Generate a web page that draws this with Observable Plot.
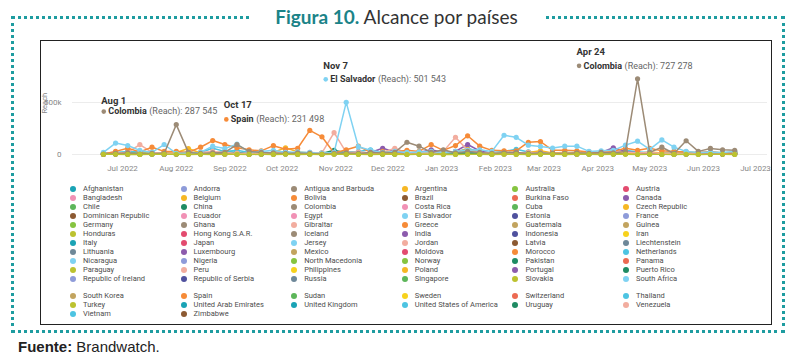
<!DOCTYPE html>
<html><head><meta charset="utf-8">
<script src="https://cdn.jsdelivr.net/npm/d3@7"></script>
<script src="https://cdn.jsdelivr.net/npm/@observablehq/plot@0.6"></script>
<style>
html,body{margin:0;padding:0;background:#fff;}
body{width:793px;height:364px;position:relative;overflow:hidden;font-family:Roboto,sans-serif;}
#frame{position:absolute;left:10.5px;top:15.5px;width:768px;height:311px;border:3px dotted #1e9ca0;}
#title{position:absolute;top:6px;left:0;width:793px;text-align:center;line-height:22px;}
#title .wrap{background:#fff;padding:0 26px;font-family:Lato,sans-serif;font-size:19px;color:#333;}
#title .fig{color:#1b8388;font-weight:bold;}
#box{position:absolute;left:40px;top:40px;width:730px;height:283px;border:1.5px solid #222;background:#fff;}
#chart{position:absolute;left:40px;top:40px;}
.legend{position:absolute;left:70px;display:grid;grid-template-columns:repeat(6,110.6px);grid-auto-rows:9px;font-size:7.5px;color:#4d4d4d;}
.item{display:flex;align-items:center;white-space:nowrap;line-height:9px;}
.sw{width:6px;height:6px;border-radius:50%;margin-right:7px;flex:none;}
#source{position:absolute;left:18px;top:338px;font-family:"Liberation Sans",Arial,sans-serif;font-size:15px;color:#222;line-height:18px;}
</style></head>
<body>
<div id="frame"></div>
<div id="title"><span class="wrap"><span class="fig">Figura 10.</span> Alcance por países</span></div>
<div id="box"></div>
<div id="chart"></div>
<div id="legend1" class="legend" style="top:184.2px"></div>
<div id="legend2" class="legend" style="top:291.2px"></div>
<div id="source"><b>Fuente:</b> Brandwatch.</div>
<script>
// ---------- data ----------
const countries = [
 "Afghanistan","Andorra","Antigua and Barbuda","Argentina","Australia","Austria",
 "Bangladesh","Belgium","Bolivia","Brazil","Burkina Faso","Canada",
 "Chile","China","Colombia","Costa Rica","Cuba","Czech Republic",
 "Dominican Republic","Ecuador","Egypt","El Salvador","Estonia","France",
 "Germany","Ghana","Gibraltar","Greece","Guatemala","Guinea",
 "Honduras","Hong Kong S.A.R.","Iceland","India","Indonesia","Iran",
 "Italy","Japan","Jersey","Jordan","Latvia","Liechtenstein",
 "Lithuania","Luxembourg","Mexico","Moldova","Morocco","Netherlands",
 "Nicaragua","Nigeria","North Macedonia","Norway","Pakistan","Panama",
 "Paraguay","Peru","Philippines","Poland","Portugal","Puerto Rico",
 "Republic of Ireland","Republic of Serbia","Russia","Singapore","Slovakia","South Africa",
 "South Korea","Spain","Sudan","Sweden","Switzerland","Thailand",
 "Turkey","United Arab Emirates","United Kingdom","United States of America","Uruguay","Venezuela",
 "Vietnam","Zimbabwe"
];
const countryColors = [
 "#1aa3b5","#8e9bd9","#9c8b76","#f6b724","#86c440","#e34b6f",
 "#f191b5","#f6b724","#f68b38","#8c5a32","#ec6a52","#8c5bad",
 "#5db65a","#1f8b63","#9c8b76","#f191b5","#5db65a","#f6b724",
 "#8c5a32","#f191b5","#f191b5","#7fd2f2","#4f519e","#8e9bd9",
 "#86c440","#9c8b76","#f2ad9f","#f68b38","#c2a45f","#c2a45f",
 "#bcc22f","#e34b6f","#9c8b76","#8c5bad","#4f519e","#f7d21d",
 "#1aa3b5","#e34b6f","#7fd2f2","#f2ad9f","#8c5a32","#6e8899",
 "#6e8899","#8c5bad","#c2a45f","#e34b6f","#f68b38","#4dc4e2",
 "#7fd2f2","#8e9bd9","#86c440","#86c440","#1f8b63","#ec6a52",
 "#bcc22f","#f2ad9f","#f7d21d","#f6b724","#8c5bad","#1f8b63",
 "#8e9bd9","#4f519e","#6e8899","#5db65a","#bcc22f","#7fd2f2",
 "#c2a45f","#f68b38","#5db65a","#f7d21d","#ec6a52","#4dc4e2",
 "#bcc22f","#1aa3b5","#1aa3b5","#4dc4e2","#1f8b63","#f2ad9f",
 "#4dc4e2","#8c5a32"
];
const legendBlock1Count = 66;

const firstWeek = "2022-06-20";
const afterLastWeek = "2023-06-20";
const monthTicks = ["2022-07-01","2022-08-01","2022-09-01","2022-10-01","2022-11-01","2022-12-01",
 "2023-01-01","2023-02-01","2023-03-01","2023-04-01","2023-05-01","2023-06-01","2023-07-01"];
const yTicks = [0, 500000];
const yLabel = ["Reach"];

// weekly reach, in thousands
const cuba        = [8,10,12,6,9,14,7,10,8,12,15,9,7,10,12,8,6,10,9,7,12,10,8,6,10,9,12,8,10,7,9,11,8,10,12,9,7,10,8,9,12,10,8,11,9,7,10,8,12,9,6,8,10];
const unitedKingdom = [12,18,25,15,20,10,14,22,16,12,30,20,15,10,18,25,12,10,14,20,18,22,15,12,10,16,14,20,18,12,25,15,10,22,18,14,12,10,16,20,14,12,18,25,20,15,12,18,14,10,12,16,20];
const mexico      = [6,8,10,5,7,9,6,12,8,10,6,7,9,5,8,10,6,7,5,9,8,6,10,7,5,8,6,12,9,7,10,6,8,5,7,9,6,8,10,7,5,6,8,12,9,7,6,8,10,7,6,5,8];
const china       = [3,5,4,6,5,3,8,4,6,5,7,10,5,4,6,8,5,6,10,40,15,8,6,5,4,6,5,8,6,5,7,6,5,15,8,6,5,4,6,5,4,6,5,8,6,5,4,6,5,4,6,5,4];
const netherlands = [15,20,25,30,20,15,10,15,20,60,30,40,20,25,15,20,15,10,15,20,25,30,45,20,15,10,15,20,15,20,60,25,20,30,50,25,20,15,20,15,10,15,20,40,25,20,15,30,20,15,10,15,20];
const argentina   = [5,8,10,12,15,10,20,57,15,10,12,8,10,15,20,65,25,15,10,12,8,10,12,15,10,8,12,20,15,25,50,20,10,12,15,20,35,15,20,15,10,12,20,15,10,25,15,10,12,8,20,15,10];
const india       = [2,5,3,8,5,3,6,4,5,8,4,6,3,5,4,8,6,5,3,6,4,10,20,60,25,15,20,45,20,30,96,35,10,8,12,6,10,5,8,6,10,20,65,30,15,10,8,6,5,8,6,4,5];
const venezuela   = [10,15,20,95,20,10,15,10,20,30,20,10,15,10,20,15,10,20,15,210,20,25,15,20,60,15,20,10,30,166,40,20,15,10,15,20,15,10,15,10,15,20,35,25,15,20,10,15,10,15,20,15,25];
const spain       = [5,30,60,25,70,30,30,20,70,134,96,65,45,35,85,50,60,231.498,170,15,45,80,20,30,25,40,30,95,40,86,180,80,40,35,35,118,125,40,40,35,25,20,30,60,40,60,35,30,25,20,30,15,20];
const elSalvador  = [20,110,86,40,20,96,10,15,20,80,57,100,20,30,40,20,25,20,10,20,501.543,75,40,20,30,20,25,30,20,30,40,45,30,185,165,90,78,62,80,80,30,35,40,90,128,50,140,70,30,20,25,20,30];
const colombia    = [5,10,15,5,10,10,287.545,20,10,15,20,95,30,20,15,10,15,10,5,10,15,10,20,15,20,118,80,20,45,15,30,20,10,15,20,10,15,10,10,15,10,20,15,30,727.278,20,70,10,132,30,58,45,40];
const honduras    = [1.5,2.2,1.1,0.8,1.9,1.3,2.4,0.9,1.6,1.2,2.0,1.4,0.7,1.8,1.1,2.3,1.0,1.5,0.9,1.7,2.1,1.2,0.8,1.6,1.9,1.0,1.3,2.2,1.1,0.9,1.8,1.4,1.0,2.0,1.2,0.8,1.5,1.7,1.1,1.3,2.1,0.9,1.4,1.6,1.0,1.9,1.2,0.8,1.5,1.1,1.7,1.3,1.0];

const seriesNames = ["Cuba","United Kingdom","Mexico","China","Netherlands","Argentina","India","Venezuela","Spain","El Salvador","Colombia","Honduras"];
const seriesValues = [cuba,unitedKingdom,mexico,china,netherlands,argentina,india,venezuela,spain,elSalvador,colombia,honduras];

const annDates = ["2022-08-01","2022-10-17","2022-11-07","2023-04-24"];
const annCountries = ["Colombia","Spain","El Salvador","Colombia"];

// ---------- build ----------
const weeks = d3.utcMonday.range(new Date(firstWeek), new Date(afterLastWeek));
const rows = seriesNames.flatMap((c, k) => seriesValues[k].map((v, i) => ({country: c, date: weeks[i], value: Math.round(v * 1000)})));
const annotations = annDates.map((s, k) => rows.find(r => r.country === annCountries[k] && +r.date === +new Date(s)));
const annLayout = [
  {dx: -75, dy: -24, dy2: -13},
  {dx: -86, dy: -25, dy2: -11},
  {dx: -23, dy: -36, dy2: -23},
  {dx: -61, dy: -27, dy2: -13}
];
const fmt = d3.formatLocale({decimal: ",", thousands: " ", grouping: [3], currency: ["", ""]}).format(",d");
const ctx = document.createElement("canvas").getContext("2d");
ctx.font = "bold 9px Roboto";

const marks = [Plot.ruleY(yTicks, {stroke: "#ececec", strokeWidth: 1})];
seriesNames.forEach(c => {
  const d = rows.filter(r => r.country === c);
  marks.push(Plot.line(d, {x: "date", y: "value", stroke: "country", strokeWidth: 1.5}));
  marks.push(Plot.dot(d, {x: "date", y: "value", fill: "country", r: 2.6}));
});
annotations.forEach((a, k) => {
  const L = annLayout[k];
  const w = ctx.measureText(a.country).width;
  const common = {x: "date", y: "value", textAnchor: "start", fontSize: 9};
  marks.push(Plot.text([a], {...common, text: d => d3.utcFormat("%b %-d")(d.date), dx: L.dx, dy: L.dy, fontWeight: "bold", fontSize: 9.5, fill: "#333"}));
  marks.push(Plot.dot([a], {x: "date", y: "value", dx: L.dx + 2.5, dy: L.dy2, r: 2.3, fill: "country"}));
  marks.push(Plot.text([a], {...common, text: "country", dx: L.dx + 7, dy: L.dy2, fontWeight: "bold", fill: "#333"}));
  marks.push(Plot.text([a], {...common, text: d => "(Reach): " + fmt(d.value), dx: L.dx + 9.5 + w, dy: L.dy2, fill: "#666"}));
});
marks.push(Plot.text(yLabel, {frameAnchor: "left", rotate: -90, dx: -28, dy: 11, fontSize: 7.5, fill: "#888"}));

const chart = Plot.plot({
  width: 732, height: 142,
  marginLeft: 32, marginRight: 5, marginTop: 10, marginBottom: 28,
  style: {fontFamily: "Roboto, sans-serif", fontSize: "8px", color: "#888", background: "transparent", overflow: "visible"},
  x: {type: "utc", domain: [new Date("2022-06-02T04:00Z"), new Date("2023-07-07T22:00Z")],
      ticks: monthTicks.map(s => new Date(s)), tickFormat: d3.utcFormat("%b %Y"), tickSize: 0, tickPadding: 11, label: null},
  y: {domain: [0, 1000000], ticks: yTicks, tickFormat: d => d === 0 ? "0" : d / 1000 + "k",
      tickSize: 0, tickPadding: 11, label: null},
  color: {domain: countries, range: countryColors},
  marks
});
document.getElementById("chart").appendChild(chart);

// ---------- legend ----------
function fillLegend(el, names) {
  names.forEach(n => {
    const i = countries.indexOf(n);
    const item = document.createElement("div");
    item.className = "item";
    const sw = document.createElement("span");
    sw.className = "sw";
    sw.style.background = countryColors[i];
    item.appendChild(sw);
    item.appendChild(document.createTextNode(n));
    el.appendChild(item);
  });
}
fillLegend(document.getElementById("legend1"), countries.slice(0, legendBlock1Count));
fillLegend(document.getElementById("legend2"), countries.slice(legendBlock1Count));
</script>
</body></html>
